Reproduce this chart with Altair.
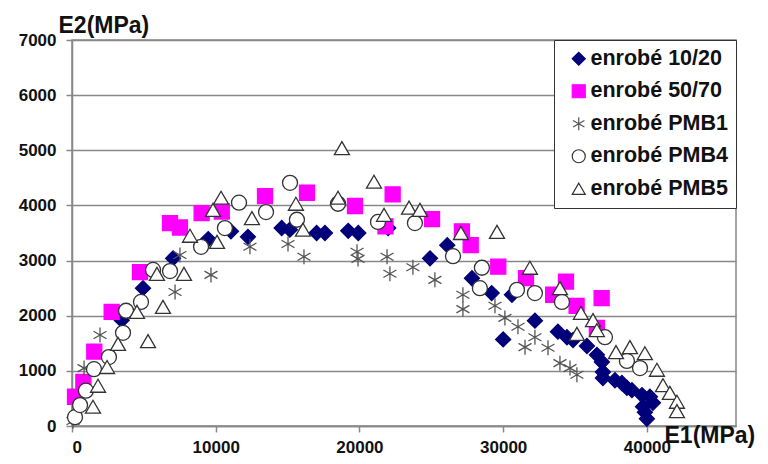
import altair as alt
import pandas as pd

series_names = ["enrobé 10/20", "enrobé 50/70", "enrobé PMB1", "enrobé PMB4", "enrobé PMB5"]

e1_1020 = [3460, 4940, 7030, 9480, 11060, 12240, 14590, 15160, 17020, 17600, 19220, 19920, 22000,
           24910, 26110, 27830, 29200, 30610, 30000, 32210, 33810, 34440, 34860, 35830, 36520, 36870,
           36940, 36940, 37780, 38260, 38610, 38960, 39660, 40210, 40420, 39730, 39860, 40000]
e2_1020 = [1920, 2500, 3040, 3390, 3530, 3430, 3590, 3560, 3500, 3500, 3540, 3500, 3590,
           3040, 3280, 2680, 2410, 2380, 1570, 1910, 1710, 1610, 1560, 1450, 1290, 1160,
           980, 870, 830, 780, 690, 650, 560, 530, 420, 350, 250, 130]

e1_5070 = [210, 790, 1550, 2760, 4730, 6820, 7510, 9020, 10420, 13430, 16350, 19690, 22310, 21810,
           25050, 27130, 27740, 29660, 31590, 34370, 33480, 35110, 36850, 36520]
e2_5070 = [530, 800, 1350, 2070, 2790, 3680, 3600, 3860, 3890, 4170, 4230, 3990, 4200, 3620,
           3750, 3530, 3280, 2890, 2680, 2620, 2380, 2180, 2320, 1780]

e1_pmb1 = [70, 210, 840, 1950, 7170, 7510, 9670, 12380, 15030, 16140, 19830, 19900, 21920, 22120,
           23720, 25250, 27200, 27200, 29430, 30120, 31030, 31520, 32210, 33120, 33950, 34650, 35130]
e2_pmb1 = [90, 160, 1050, 1650, 2430, 3100, 2740, 3250, 3300, 3070, 3160, 3030, 3070, 2760,
           2880, 2650, 2380, 2120, 2180, 1960, 1800, 1430, 1610, 1420, 1140, 1050, 930]

e1_pmb4 = [210, 560, 970, 1530, 2570, 3550, 3760, 4800, 5640, 6820, 8980, 10640, 11620, 13500,
           15170, 15650, 18510, 21290, 23860, 26510, 28520, 28380, 30960, 32210, 34090, 37080, 38610, 39520]
e2_pmb4 = [160, 380, 640, 1030, 1250, 1690, 2090, 2250, 2830, 2810, 3250, 3590, 4050, 3880,
           4410, 3740, 4030, 3700, 3680, 3080, 2870, 2500, 2470, 2410, 2250, 1610, 1180, 1050]

e1_pmb5 = [1460, 1810, 2440, 3200, 4520, 5290, 6330, 5910, 7790, 8210, 10090, 9810, 10370, 12520,
           15580, 16070, 18780, 18510, 21010, 21710, 23450, 24210, 27060, 29570, 31860, 33950, 35410,
           36250, 35130, 36520, 37850, 38820, 39860, 40700, 41120, 41600, 42090, 42090]
e2_pmb5 = [350, 730, 1070, 1490, 2070, 1540, 2160, 2760, 2760, 3450, 3340, 3920, 4140, 3770,
           4030, 3560, 5040, 4140, 4430, 3830, 3960, 3920, 3500, 3520, 2870, 2500, 2050,
           1920, 1670, 1740, 1340, 1430, 1320, 1020, 740, 600, 440, 270]

x_ticks = [0, 10000, 20000, 30000, 40000]
y_ticks = [0, 1000, 2000, 3000, 4000, 5000, 6000, 7000]

rows = []
idx = 0
for name, xs, ys in zip(series_names,
                        [e1_1020, e1_5070, e1_pmb1, e1_pmb4, e1_pmb5],
                        [e2_1020, e2_5070, e2_pmb1, e2_pmb4, e2_pmb5]):
    for a, b in zip(xs, ys):
        rows.append({"series": name, "E1": a, "E2": b, "idx": idx})
        idx += 1
df = pd.DataFrame(rows)

asterisk = "M0,-1L0,1M-0.866,-0.5L0.866,0.5M-0.866,0.5L0.866,-0.5"
shapes = ["diamond", "square", asterisk, "circle", "triangle-up"]
fills = ["#00007a", "#ff00ff", "transparent", "#ffffff", "#ffffff"]
strokes = ["#00007a", "#ff00ff", "#555555", "#333333", "#333333"]

FONT = "Liberation Sans"

leg = alt.Legend(
    title=None, orient="top-right", offset=0, padding=8,
    strokeColor="#333333", fillColor="#ffffff",
    labelFont=FONT, labelFontSize=21.5, labelFontWeight="bold", labelColor="#111111",
    symbolOffset=6, labelOffset=1, rowPadding=9.5, symbolSize=170, symbolStrokeWidth=1.2,
)

chart = alt.Chart(df).mark_point(opacity=1, strokeWidth=1.3, size=225).encode(
    x=alt.X("E1:Q", scale=alt.Scale(domain=[0, 46200], nice=False, zero=False),
            axis=alt.Axis(values=x_ticks, format="d", grid=False, title="E1(MPa)",
                          titleX=592, titleY=16, titleAlign="left", titleBaseline="alphabetic",
                          titleAngle=0, tickSize=6, labelPadding=7)),
    y=alt.Y("E2:Q", scale=alt.Scale(domain=[0, 7000], nice=False),
            axis=alt.Axis(values=y_ticks, format="d", grid=True, title="E2(MPa)",
                          titleX=-14, titleY=-8, titleAlign="left", titleBaseline="alphabetic",
                          titleAngle=0, tickSize=6, labelPadding=10)),
    shape=alt.Shape("series:N", scale=alt.Scale(domain=series_names, range=shapes), legend=leg),
    fill=alt.Fill("series:N", scale=alt.Scale(domain=series_names, range=fills), legend=leg),
    stroke=alt.Stroke("series:N", scale=alt.Scale(domain=series_names, range=strokes), legend=leg),
    order=alt.Order("idx:Q"),
).properties(
    width=664, height=386,
    padding={"left": 64, "top": 32, "right": 24, "bottom": 30},
    autosize=alt.AutoSizeParams(type="none"),
).configure_view(
    stroke="#888888", strokeWidth=1.5
).configure_axis(
    labelFont=FONT, labelFontSize=17, labelFontWeight="bold", labelColor="#111111",
    titleFont=FONT, titleFontSize=23, titleFontWeight="bold", titleColor="#111111",
    domainColor="#888888", domainWidth=1.5, tickColor="#888888", tickWidth=1.5,
    gridColor="#888888", gridWidth=1.5,
)

chart.save("out.html", embed_options={"renderer": "svg", "actions": False})
